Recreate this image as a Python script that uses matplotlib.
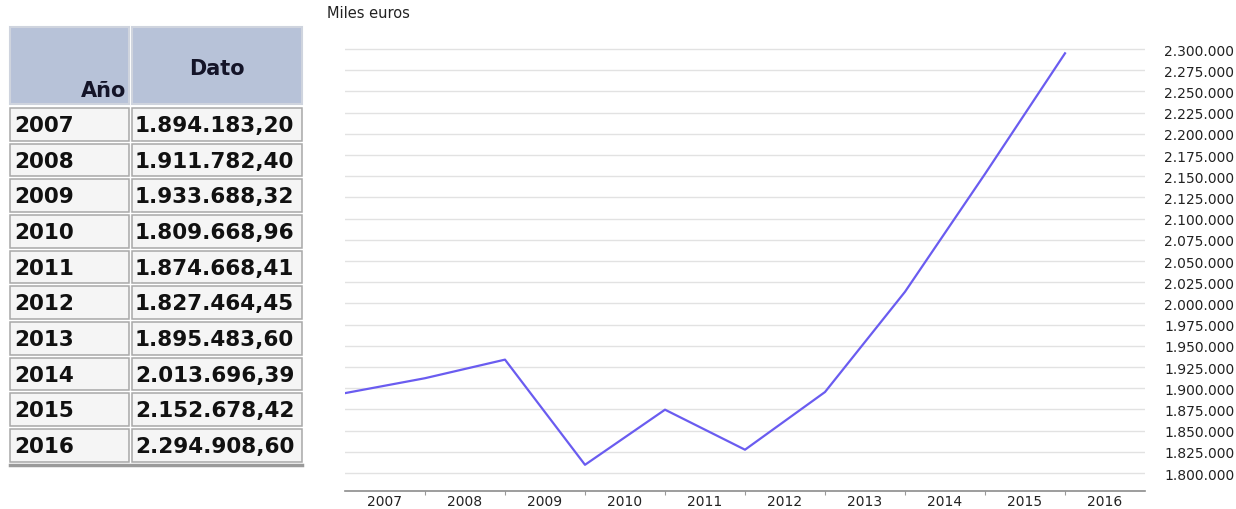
import matplotlib.pyplot as plt
from matplotlib.patches import Rectangle
from matplotlib.ticker import FuncFormatter, FixedLocator

years = [2007, 2008, 2009, 2010, 2011, 2012, 2013, 2014, 2015, 2016]
values = [1894183.20, 1911782.40, 1933688.32, 1809668.96, 1874668.41,
          1827464.45, 1895483.60, 2013696.39, 2152678.42, 2294908.60]
y_ticks = list(range(1800000, 2300001, 25000))


def es_number(v, decimals=2):
    # formato español: punto para miles, coma para decimales
    s = "{:,.{}f}".format(v, decimals)
    return s.replace(",", "X").replace(".", ",").replace("X", ".")


fig = plt.figure(figsize=(12.36, 5.10), dpi=100)

# ---- tabla de la izquierda (coordenadas en píxeles) ----
tab = fig.add_axes([0, 0, 1, 1])
tab.set_xlim(0, 1236)
tab.set_ylim(510, 0)
tab.axis("off")

x0, x1, x2 = 10, 131, 302
head_top, head_bot = 28, 105
row_top, row_h = 108, 35.67

tab.add_patch(Rectangle((x0, head_top), x1 - x0 - 2, head_bot - head_top,
                        facecolor="#b7c2d8", edgecolor="#cfd4de", lw=1.5))
tab.add_patch(Rectangle((x1 + 1, head_top), x2 - x1 - 1, head_bot - head_top,
                        facecolor="#b7c2d8", edgecolor="#cfd4de", lw=1.5))
tab.text(x1 - 5, 91, "Año", ha="right", va="center", fontsize=15,
         fontweight="bold", color="#141428")
tab.text((x1 + x2) / 2, 69, "Dato", ha="center", va="center", fontsize=15,
         fontweight="bold", color="#141428")

for i in range(len(years)):
    top = row_top + i * row_h
    tab.add_patch(Rectangle((x0, top + 1), x1 - x0 - 2, row_h - 3,
                            facecolor="#f5f5f5", edgecolor="#a8a8a8", lw=1.1))
    tab.add_patch(Rectangle((x1 + 1, top + 1), x2 - x1 - 1, row_h - 3,
                            facecolor="#f5f5f5", edgecolor="#a8a8a8", lw=1.1))
    tab.text(x0 + 4, top + row_h / 2, str(years[i]), ha="left", va="center",
             fontsize=15.5, fontweight="bold", color="#111111")
    tab.text(x1 + 4, top + row_h / 2, es_number(values[i]), ha="left",
             va="center", fontsize=15.5, fontweight="bold", color="#111111")

tab.plot([x0, x2], [row_top + 10 * row_h + 1, row_top + 10 * row_h + 1],
         color="#9a9a9a", lw=2.5)

# ---- gráfico de línea ----
ax = fig.add_axes([345 / 1236, 18 / 510, 800 / 1236, 462 / 510])
ax.plot(range(len(values)), values, color="#6a5cf0", lw=1.6)
ax.set_xlim(0, 10)
ax.set_ylim(1778774, 2323585)

ax.set_yticks(y_ticks)
ax.yaxis.tick_right()
ax.yaxis.set_major_formatter(FuncFormatter(lambda v, p: es_number(v, 0)))
ax.tick_params(axis="y", length=0, pad=14, labelsize=10, labelcolor="#222222")
ax.grid(axis="y", color="#e2e2e2", lw=1)

ax.xaxis.set_major_locator(FixedLocator(range(1, 10)))
ax.xaxis.set_minor_locator(FixedLocator([i + 0.5 for i in range(10)]))
ax.set_xticklabels([], minor=False)
ax.set_xticklabels([str(y) for y in years], minor=True)
ax.tick_params(axis="x", which="major", length=3, color="#999999")
ax.tick_params(axis="x", which="minor", length=0, pad=2, labelsize=10,
               labelcolor="#222222")

for side in ["top", "left", "right"]:
    ax.spines[side].set_visible(False)
ax.spines["bottom"].set_color("#8c8c8c")
ax.spines["bottom"].set_linewidth(1.2)

fig.text(327 / 1236, 1 - 14 / 510, "Miles euros", ha="left", va="center",
         fontsize=10.5, color="#222222")

plt.savefig("out.png", dpi=100)
